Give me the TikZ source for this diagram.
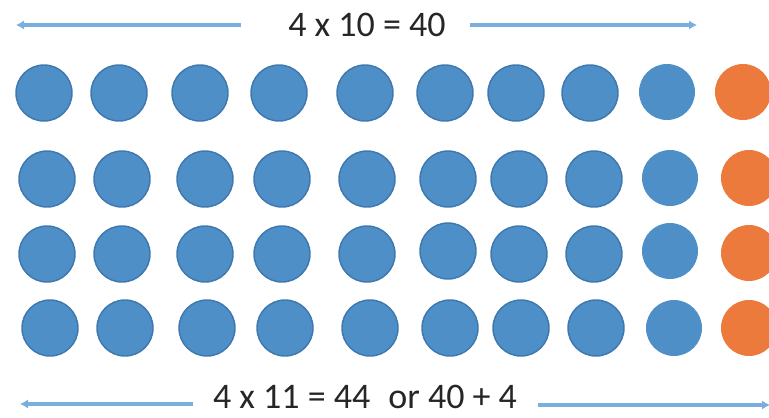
\documentclass[tikz,border=0pt]{standalone}
\usepackage{fontspec}
\setmainfont{Carlito}
\usetikzlibrary{arrows.meta}
\definecolor{dotblue}{HTML}{4F8FC8}
\definecolor{dotedge}{HTML}{3E78AE}
\definecolor{dotorange}{HTML}{EB7A3C}
\definecolor{arrblue}{HTML}{7AAEDC}
\definecolor{txt}{HTML}{262626}
\tikzset{
  bdot/.style={circle,inner sep=0pt,minimum size=42pt,fill=dotblue,draw=dotedge,line width=1.1pt},
  ldot/.style={circle,inner sep=0pt,minimum size=42pt,fill=dotblue},
  odot/.style={circle,inner sep=0pt,minimum size=42pt,fill=dotorange},
  lbl/.style={text=txt,font=\fontsize{27}{30}\selectfont,inner sep=0pt,anchor=base},
  arr/.style={draw=arrblue,line width=3pt,-{Latex[length=6pt,width=7pt]}},
}
\begin{document}
\begin{tikzpicture}[x=0.75pt,y=-0.75pt]
\useasboundingbox (0,0) rectangle (769,418);
\begin{scope}
\clip (0,0) rectangle (769,418);
% row 1
\foreach \x [count=\i] in {44,119,200,279,365,445,516,590}
  \node[bdot] (r1c\i) at (\x,93) {};
\node[ldot] (r1c9) at (667,92) {};
\node[odot] (r1c10) at (743,92) {};
% row 2
\foreach \x [count=\i] in {47,122,205,282,367,448,519,594}
  \node[bdot] (r2c\i) at (\x,179) {};
\node[ldot] (r2c9) at (670,178) {};
\node[odot] (r2c10) at (749,178) {};
% row 3
\foreach \x/\y [count=\i] in {47/254,122/254,205/254,282/254,367/254,448/251,519/254,594/254}
  \node[bdot] (r3c\i) at (\x,\y) {};
\node[ldot] (r3c9) at (670,251) {};
\node[odot] (r3c10) at (749,253) {};
% row 4
\foreach \x [count=\i] in {50,125,207,285,370,450,521,596}
  \node[bdot] (r4c\i) at (\x,328) {};
\node[ldot] (r4c9) at (674,328) {};
\node[odot] (r4c10) at (749,328) {};
% labels
\node[lbl] (top) at (367,36) {4 x 10 = 40};
\node[lbl] (bot) at (365,408) {4 x 11 = 44\enspace or 40 + 4};
% arrow ends
\coordinate (tl) at (16,25);
\coordinate (tls) at (241,25);
\coordinate (trs) at (470,25);
\coordinate (tr) at (697,25);
\coordinate (bl) at (20,404);
\coordinate (bls) at (193,404);
\coordinate (brs) at (538,405);
\coordinate (br) at (770,405);
\draw[arr] (tls) -- (tl);
\draw[arr] (trs) -- (tr);
\draw[arr] (bls) -- (bl);
\draw[arr] (brs) -- (br);
\end{scope}
\end{tikzpicture}
\end{document}
